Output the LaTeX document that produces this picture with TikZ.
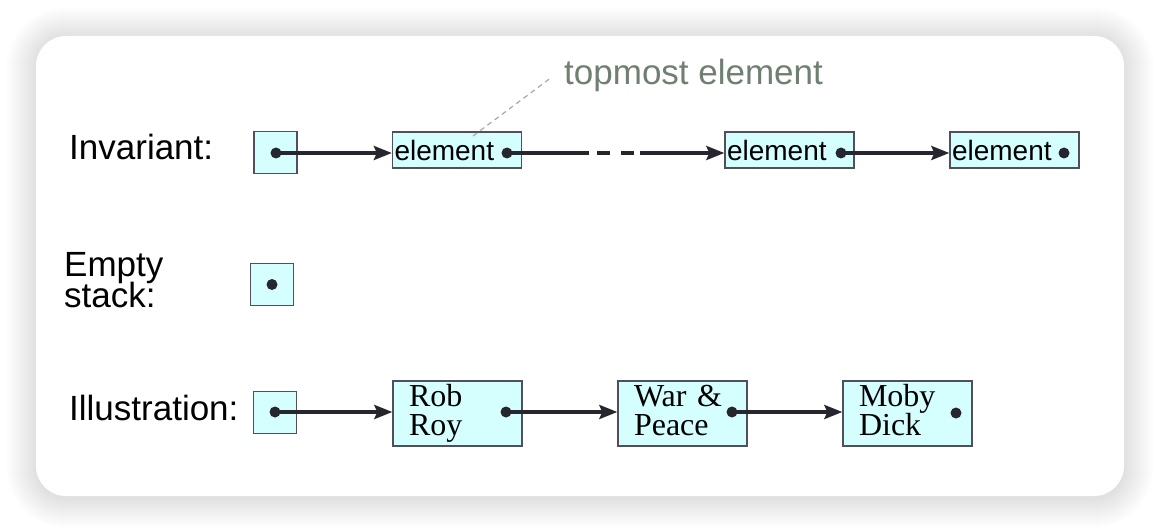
\documentclass[tikz,border=0pt]{standalone}
\usepackage{fontspec}
\setmainfont{Liberation Sans}
\newfontfamily\serifbook{Liberation Serif}
\usetikzlibrary{arrows.meta}
\definecolor{boxfill}{HTML}{D5FEFE}
\definecolor{boxline}{HTML}{50505A}
\definecolor{arrowc}{HTML}{26262E}
\definecolor{topc}{HTML}{6F8070}
\definecolor{leadc}{HTML}{A8A8A8}
\newcommand\bk[2]{\rule{0pt}{22pt}#1\\#2\rule[-7pt]{0pt}{7pt}}
\newcommand\nolsl{\lineskiplimit=-100pt\relax}
\begin{document}
\begin{tikzpicture}[x=1pt,y=-1pt,
  ptrbox/.style={draw=boxline, fill=boxfill, line width=1.3pt, minimum width=43pt, minimum height=42pt, inner sep=0pt},
  elem/.style={draw=boxline, fill=boxfill, line width=1.3pt, minimum width=129pt, minimum height=36pt,
    inner xsep=2pt, inner ysep=0pt, text width=125pt, align=left, text height=22pt, text depth=0pt,
    font=\fontsize{28}{30}\selectfont},
  book/.style={draw=boxline, fill=boxfill, line width=1.3pt, minimum width=129pt, minimum height=65pt,
    inner xsep=16pt, inner ysep=0pt, text width=97pt, align=left,
    font=\serifbook\fontsize{32}{29}\selectfont\nolsl},
  dot/.style={circle, fill=arrowc, inner sep=0pt, minimum size=11pt},
  link/.style={draw=arrowc, line width=3.4pt},
  ptr/.style={link, -{Stealth[length=18pt,width=14pt,inset=3pt]}},
  leader/.style={draw=leadc, line width=1.2pt, dash pattern=on 5pt off 4pt},
  lbl/.style={inner sep=0pt, font=\fontsize{35}{31}\selectfont\nolsl}
]
\useasboundingbox (0,0) rectangle (1160,532);
\fill[white] (0,0) rectangle (1160,532);
% soft shadow
\foreach \i [evaluate=\i as \r using 30+\i] in {1,...,30} {
  \fill[black, opacity=0.0045, rounded corners=\r pt] (36-\i,37-\i) rectangle (1124+\i,498+\i);
}
\fill[white, rounded corners=30pt] (36,36) rectangle (1124,496);

% labels
\node[lbl, anchor=base west] (linv) at (69,160) {Invariant:};
\node[lbl, anchor=west, align=left] (lemp) at (64,280) {Empty\\stack:};
\node[lbl, anchor=base west] (lill) at (69,420) {Illustration:};

% invariant row
\node[ptrbox] (p1) at (275.5,152.5) {};
\node[elem] (e1) at (457,150) {element};
\node[elem] (e2) at (789.5,150) {element};
\node[elem] (e3) at (1014.5,150) {element};
\node[dot] (d0) at (276,153) {};
\node[dot] (d1) at (507,153) {};
\node[dot] (d2) at (841,153) {};
\node[dot] (d3) at (1064,153) {};
\coordinate (g1) at (589,153);
\coordinate (g2) at (597,153);
\coordinate (g3) at (634,153);
\coordinate (g4) at (640,153);
\draw[ptr] (d0.center) -- (d0 -| e1.west);
\draw[link] (d1.center) -- (g1);
\draw[link, dash pattern=on 13pt off 11pt] (g2) -- (g3);
\draw[ptr] (g4) -- (g4 -| e2.west);
\draw[ptr] (d2.center) -- (d2 -| e3.west);

% topmost element annotation
\node[anchor=base west, inner sep=0pt, font=\fontsize{35}{40}\selectfont, text=topc] (tm) at (564,85) {topmost element};
\coordinate (l1) at (473,136);
\coordinate (l2) at (552,77);
\draw[leader] (l1) -- (l2);

% empty stack
\node[ptrbox] (p2) at (272,284.5) {};
\node[dot] (d8) at (272,284.5) {};

% illustration row
\node[ptrbox] (p3) at (275,412.5) {};
\node[book] (b1) at (457.5,413.5) {\bk{Rob}{Roy}};
\node[book] (b2) at (682.5,413.5) {\bk{War \&}{Peace}};
\node[book] (b3) at (907.5,413.5) {\bk{Moby}{Dick}};
\node[dot] (d4) at (275,412) {};
\node[dot] (d5) at (506,412) {};
\node[dot] (d6) at (732,412) {};
\node[dot] (d7) at (956,413) {};
\draw[ptr] (d4.center) -- (d4 -| b1.west);
\draw[ptr] (d5.center) -- (d5 -| b2.west);
\draw[ptr] (d6.center) -- (d6 -| b3.west);
\end{tikzpicture}
\end{document}
